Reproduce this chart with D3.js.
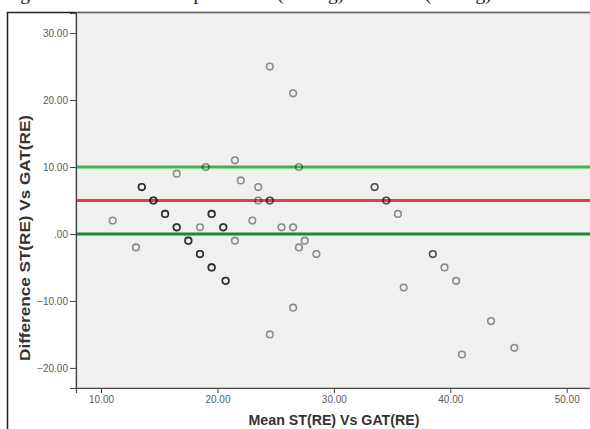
<!DOCTYPE html>
<html lang="en">
<head>
  <meta charset="UTF-8">
  <title>Bland Altman plot</title>
  <style>
    body { margin: 0; background: #fff; }
    .tick text { font-family: Arial, "Liberation Sans", sans-serif; font-size: 10px; fill: #5a5a5a; }
    .tick line, .domain { stroke: #444; }
    .axis-title { font-family: Arial, "Liberation Sans", sans-serif; font-size: 14px; font-weight: bold; fill: #333; }
  </style>
</head>
<body>
  <svg id="chart" width="590" height="429"></svg>

  <script src="https://d3js.org/d3.v7.min.js"></script>
  <script>
    // mean of the two readings (x) and their difference (y), one entry per eye
    const meanVals = [11, 13, 13.5, 13.5, 13.5, 14.5, 14.5, 14.5, 15.5, 15.5, 15.5, 16.5,
      16.5, 16.5, 16.5, 17.5, 17.5, 17.5, 18.5, 18.5, 18.5, 18.5, 19, 19.5, 19.5, 19.5,
      19.5, 19.5, 19.5, 20.5, 20.5, 20.5, 20.7, 20.7, 20.7, 21.5, 21.5, 22, 23, 23.5, 23.5,
      24.5, 24.5, 24.5, 24.5, 25.5, 26.5, 26.5, 26.5, 27, 27, 27.5, 28.5, 33.5, 33.5,
      34.5, 34.5, 35.5, 36, 38.5, 38.5, 39.5, 40.5, 41, 43.5, 45.5];
    const diffVals = [2, -2, 7, 7, 7, 5, 5, 5, 3, 3, 3, 9,
      1, 1, 1, -1, -1, -1, -3, -3, -3, 1, 10, 3, 3, 3,
      -5, -5, -5, 1, 1, 1, -7, -7, -7, 11, -1, 8, 2, 7, 5,
      5, 5, 25, -15, 1, 21, 1, -11, 10, -2, -1, -3, 7, 7,
      5, 5, 3, -8, -3, -3, -5, -7, -18, -13, -17];

    // limits of agreement and mean difference
    const refValues = [10, 5, 0];
    const refColors = ["#3cb54a", "#ee3a3f", "#178a3c"];

    const xTicks = [10, 20, 30, 40, 50];
    const yTicks = [-20, -10, 0, 10, 20, 30];

    const fmt = d => d === 0 ? ".00" : d3.format(".2f")(d);

    const svg = d3.select("#chart");

    // caption of the figure, cut off by the page crop
    svg.append("text")
      .attr("x", 4).attr("y", 0)
      .attr("font-family", "'Liberation Serif', serif")
      .attr("font-size", 19.5)
      .attr("fill", "#222")
      .text("Figure 4: Bland Altman plot of ST (mmHg) and GAT (mmHg).");

    // outer frame
    svg.append("rect")
      .attr("x", 7.5).attr("y", 12.5)
      .attr("width", 620).attr("height", 440)
      .attr("fill", "#fff")
      .attr("stroke", "#222")
      .attr("stroke-width", 1.5);

    const plotL = 76, plotR = 590, plotT = 13, plotB = 388;

    const x = d3.scaleLinear().domain([7.85, 52]).range([plotL, plotR]);
    const y = d3.scaleLinear().domain([-23, 33]).range([plotB, plotT]);

    svg.append("rect")
      .attr("x", plotL).attr("y", plotT)
      .attr("width", plotR - plotL + 5).attr("height", plotB - plotT)
      .attr("fill", "#f0f0f0")
      .attr("stroke", "#9a9a9a");

    svg.append("g")
      .attr("transform", `translate(0,${plotB})`)
      .call(d3.axisBottom(x).tickValues(xTicks).tickFormat(fmt).tickSizeOuter(0).tickSize(5).tickPadding(3));

    svg.append("g")
      .attr("transform", `translate(${plotL},0)`)
      .call(d3.axisLeft(y).tickValues(yTicks).tickFormat(fmt).tickSizeOuter(0).tickSize(6).tickPadding(2));

    svg.selectAll(".domain").attr("stroke-width", 1.2);

    // reference lines
    svg.selectAll(".ref")
      .data(refValues)
      .enter()
      .append("line")
      .attr("class", "ref")
      .attr("x1", plotL + 1).attr("x2", plotR)
      .attr("y1", d => y(d)).attr("y2", d => y(d))
      .attr("stroke", (d, i) => refColors[i])
      .attr("stroke-width", 3);

    // points
    const points = meanVals.map((m, i) => ({ mean: m, diff: diffVals[i] }));
    svg.selectAll(".pt")
      .data(points)
      .enter()
      .append("circle")
      .attr("class", "pt")
      .attr("cx", d => x(d.mean))
      .attr("cy", d => y(d.diff))
      .attr("r", 3.3)
      .attr("fill", "none")
      .attr("stroke", "#000")
      .attr("stroke-opacity", 0.42)
      .attr("stroke-width", 1.6);

    // axis titles
    svg.append("text")
      .attr("class", "axis-title")
      .attr("x", 334).attr("y", 425)
      .attr("text-anchor", "middle")
      .attr("textLength", 171)
      .attr("lengthAdjust", "spacingAndGlyphs")
      .text("Mean ST(RE) Vs GAT(RE)");

    svg.append("text")
      .attr("class", "axis-title")
      .attr("transform", "translate(30,238) rotate(-90)")
      .attr("text-anchor", "middle")
      .attr("textLength", 246)
      .attr("lengthAdjust", "spacingAndGlyphs")
      .text("Difference ST(RE) Vs GAT(RE)");
  </script>
</body>
</html>
